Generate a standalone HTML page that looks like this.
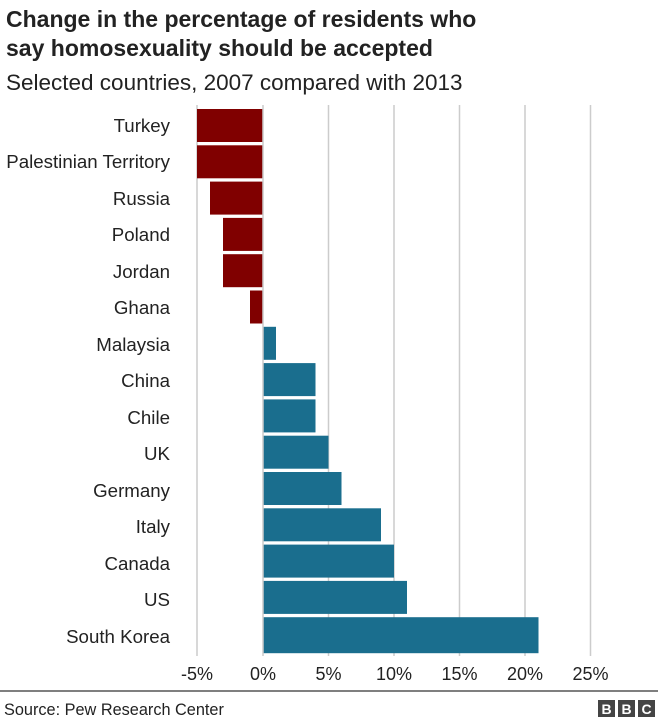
<!DOCTYPE html>
<html><head><meta charset="utf-8"><style>
body{margin:0;background:#fff;width:658px;height:719px;overflow:hidden;font-family:"Liberation Sans",Arial,sans-serif;}
</style></head><body>
<svg width="658" height="719" xmlns="http://www.w3.org/2000/svg" font-family="Liberation Sans, Arial, sans-serif">
<text x="6" y="27" font-size="23" font-weight="bold" fill="#222">Change in the percentage of residents who</text>
<text x="6" y="56" font-size="23" font-weight="bold" fill="#222">say homosexuality should be accepted</text>
<text x="6" y="90" font-size="22.5" fill="#222">Selected countries, 2007 compared with 2013</text>
<g stroke="#cccccc" stroke-width="1.5">
<line x1="197" y1="105" x2="197" y2="656"/>
<line x1="328.5" y1="105" x2="328.5" y2="656"/>
<line x1="394" y1="105" x2="394" y2="656"/>
<line x1="459.5" y1="105" x2="459.5" y2="656"/>
<line x1="525" y1="105" x2="525" y2="656"/>
<line x1="590.5" y1="105" x2="590.5" y2="656"/>
</g>
<g fill="#800000">
<rect x="197" y="109" width="66" height="33"/>
<rect x="197" y="145.3" width="66" height="33"/>
<rect x="210" y="181.6" width="53" height="33"/>
<rect x="223" y="217.9" width="40" height="33"/>
<rect x="223" y="254.2" width="40" height="33"/>
<rect x="250" y="290.5" width="13" height="33"/>
</g>
<g fill="#1a6e8e">
<rect x="263" y="326.8" width="13" height="33"/>
<rect x="263" y="363.1" width="52.5" height="33"/>
<rect x="263" y="399.4" width="52.5" height="33"/>
<rect x="263" y="435.7" width="65.5" height="33"/>
<rect x="263" y="472" width="78.5" height="33"/>
<rect x="263" y="508.3" width="118" height="33"/>
<rect x="263" y="544.6" width="131" height="33"/>
<rect x="263" y="580.9" width="144" height="33"/>
<rect x="263" y="617.2" width="275.5" height="36"/>
</g>
<line x1="263" y1="105" x2="263" y2="656" stroke="#cccccc" stroke-width="1.5"/>
<g font-size="18.7" fill="#222" text-anchor="end">
<text x="170" y="132">Turkey</text>
<text x="170" y="168">Palestinian Territory</text>
<text x="170" y="205">Russia</text>
<text x="170" y="241">Poland</text>
<text x="170" y="278">Jordan</text>
<text x="170" y="314">Ghana</text>
<text x="170" y="351">Malaysia</text>
<text x="170" y="387">China</text>
<text x="170" y="424">Chile</text>
<text x="170" y="460">UK</text>
<text x="170" y="497">Germany</text>
<text x="170" y="533">Italy</text>
<text x="170" y="570">Canada</text>
<text x="170" y="606">US</text>
<text x="170" y="643">South Korea</text>
</g>
<g font-size="18" fill="#222" text-anchor="middle">
<text x="197" y="680">-5%</text>
<text x="263" y="680">0%</text>
<text x="328.5" y="680">5%</text>
<text x="394" y="680">10%</text>
<text x="459.5" y="680">15%</text>
<text x="525" y="680">20%</text>
<text x="590.5" y="680">25%</text>
</g>
<line x1="0" y1="691" x2="658" y2="691" stroke="#555" stroke-width="1.5"/>
<text x="4" y="715" font-size="16.3" fill="#222">Source: Pew Research Center</text>
<g>
<rect x="598" y="700" width="17" height="17" fill="#444"/>
<rect x="618" y="700" width="17" height="17" fill="#444"/>
<rect x="638" y="700" width="17" height="17" fill="#444"/>
<g font-size="14" font-weight="bold" fill="#fff" text-anchor="middle">
<text x="606.5" y="714">B</text><text x="626.5" y="714">B</text><text x="646.5" y="714">C</text>
</g>
</g>
</svg>
</body></html>
